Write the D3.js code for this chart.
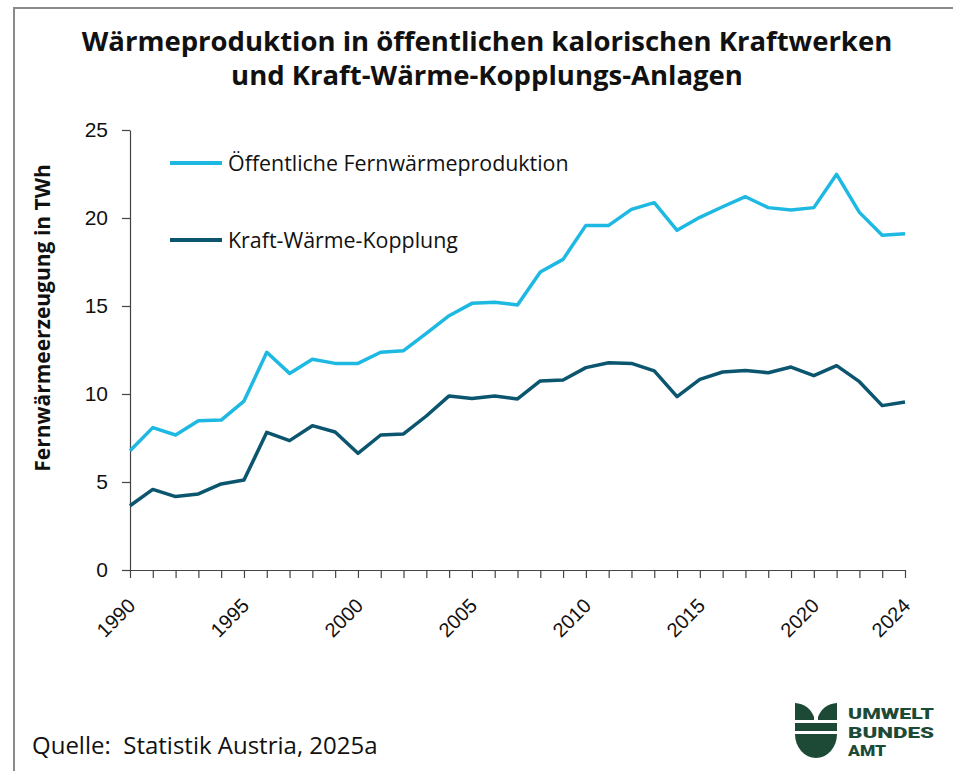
<!DOCTYPE html>
<html>
<head>
<meta charset="utf-8">
<script src="https://cdn.jsdelivr.net/npm/d3@7"></script>
<style>
  body { margin: 0; background: #fff; }
  svg { font-family: "Open Sans", sans-serif; }
</style>
</head>
<body>
<div id="chart"></div>
<script>
// DATA
const years = d3.range(1990, 2025);
const fernwaerme = [6.78, 8.09, 7.67, 8.48, 8.52, 9.6, 12.37, 11.17, 11.97, 11.74,
  11.74, 12.37, 12.46, 13.45, 14.45, 15.15, 15.21, 15.06, 16.93, 17.65,
  19.58, 19.58, 20.49, 20.87, 19.3, 20.04, 20.64, 21.21, 20.59, 20.45,
  20.59, 22.48, 20.32, 19.02, 19.11];
const kwk = [3.65, 4.58, 4.17, 4.32, 4.89, 5.11, 7.82, 7.35, 8.2, 7.84,
  6.63, 7.67, 7.73, 8.75, 9.89, 9.75, 9.89, 9.72, 10.74, 10.8,
  11.5, 11.78, 11.74, 11.31, 9.85, 10.83, 11.25, 11.33, 11.21, 11.53,
  11.04, 11.61, 10.7, 9.34, 9.55];
const seriesNames = ["Öffentliche Fernwärmeproduktion", "Kraft-Wärme-Kopplung"];
const seriesColors = ["#1db9e2", "#0b566e"];
const yTicks = [0, 5, 10, 15, 20, 25];
const xLabels = [1990, 1995, 2000, 2005, 2010, 2015, 2020, 2024];
const titleLines = ["Wärmeproduktion in öffentlichen kalorischen Kraftwerken",
  "und Kraft-Wärme-Kopplungs-Anlagen"];

const W = 953, H = 771;
const margin = {top: 130, right: 48, bottom: 201, left: 130};

const svg = d3.select("#chart").append("svg")
  .attr("width", W).attr("height", H);

// FRAME
svg.append("path")
  .attr("d", `M${W + 5},8 H14 V${H + 5}`)
  .attr("fill", "none").attr("stroke", "#8a8a8a").attr("stroke-width", 2);

// TITLE
svg.append("text")
  .attr("x", 487).attr("y", 51)
  .attr("text-anchor", "middle")
  .style("font-size", "27.5px").style("font-weight", 700).attr("fill", "#111")
  .selectAll("tspan").data(titleLines).enter().append("tspan")
  .attr("x", 487).attr("dy", (d, i) => i ? 34 : 0)
  .text(d => d);

const x = d3.scaleLinear().domain([1990, 2024]).range([margin.left, W - margin.right]);
const y = d3.scaleLinear().domain([0, 25]).range([H - margin.bottom, margin.top]);

// AXES
const yAxis = svg.append("g")
  .attr("transform", `translate(${margin.left},0)`)
  .call(d3.axisLeft(y).tickValues(yTicks).tickSize(8).tickPadding(14).tickSizeOuter(0));
yAxis.selectAll("text").style("font-size", "21px").attr("fill", "#111");

const xAxis = svg.append("g")
  .attr("transform", `translate(0,${H - margin.bottom})`)
  .call(d3.axisBottom(x).tickValues(years).tickSize(8).tickSizeOuter(0)
    .tickFormat(d => xLabels.includes(d) ? d : ""));
xAxis.selectAll("text")
  .style("font-size", "20px").attr("fill", "#111")
  .attr("text-anchor", "end")
  .attr("x", 0).attr("y", 0).attr("dy", 0)
  .attr("transform", "translate(6,37) rotate(-45)");

svg.selectAll(".domain, .tick line").attr("stroke", "#444").attr("stroke-width", 1.2);

// Y LABEL
svg.append("text")
  .attr("transform", "translate(50,318) rotate(-90)")
  .attr("text-anchor", "middle")
  .style("font-size", "21px").style("font-weight", 700).attr("fill", "#111")
  .text("Fernwärmeerzeugung in TWh");

// LINES
const line = d3.line().x((d, i) => x(years[i])).y(d => y(d));
[fernwaerme, kwk].forEach((vals, i) => {
  svg.append("path")
    .datum(vals)
    .attr("d", line)
    .attr("fill", "none")
    .attr("stroke", seriesColors[i])
    .attr("stroke-width", 3.5)
    .attr("stroke-linejoin", "round");
});

// LEGEND
const legend = svg.selectAll(".legend").data(seriesNames).enter().append("g")
  .attr("class", "legend")
  .attr("transform", (d, i) => `translate(170,${163 + i * 77})`);
legend.append("line")
  .attr("x1", 0).attr("x2", 52)
  .attr("stroke", (d, i) => seriesColors[i]).attr("stroke-width", 4);
legend.append("text")
  .attr("x", 58).attr("y", 8)
  .style("font-size", "21.4px").attr("fill", "#111")
  .text(d => d);

// SOURCE
svg.append("text")
  .attr("x", 32).attr("y", 754)
  .style("font-size", "24px").attr("fill", "#111")
  .attr("xml:space", "preserve")
  .text("Quelle:  Statistik Austria, 2025a");

// LOGO
const logo = svg.append("g").attr("transform", "translate(795,703)").attr("fill", "#1d4a37");
logo.append("path").attr("d", "M0,0 Q14,1 19,14 L19,17 L0,17 Z");
logo.append("path").attr("d", "M42,0 Q28,1 23,14 L23,17 L42,17 Z");
logo.append("rect").attr("x", 0).attr("y", 20).attr("width", 42).attr("height", 8);
logo.append("path").attr("d", "M0,31 H42 A21,24 0 0 1 0,31 Z");
logo.selectAll(".lt").data(["UMWELT", "BUNDES", "AMT"]).enter().append("text")
  .attr("x", 53).attr("y", (d, i) => 16 + i * 18.5)
  .attr("textLength", d => d === "AMT" ? 38 : 86)
  .attr("lengthAdjust", "spacingAndGlyphs")
  .style("font-family", "Roboto, sans-serif").style("font-weight", 900)
  .style("font-size", "15.5px")
  .text(d => d);
</script>
</body>
</html>
